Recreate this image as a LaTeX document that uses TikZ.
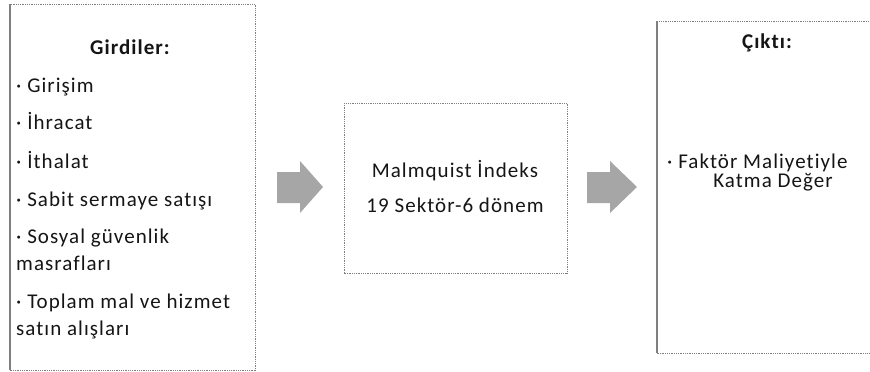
\documentclass[tikz,border=0pt]{standalone}
\usepackage{fontspec}
\setmainfont{Carlito}[LetterSpace=5,Ligatures=NoCommon]
\definecolor{edgegray}{HTML}{7F7F7F}
\definecolor{arrowgray}{HTML}{A6A6A6}
\definecolor{inkc}{HTML}{151515}
\begin{document}
\begin{tikzpicture}[x=1pt,y=-1pt,
  dotbox/.style={draw=edgegray,line width=0.9pt,dash pattern=on 0.9pt off 0.9pt,inner sep=0pt},
  solidedge/.style={draw=edgegray,line width=1.1pt},
  txt/.style={inner sep=0pt,text=inkc,font=\fontsize{21}{24}\selectfont},
  item/.style={txt,anchor=base west},
  ctr/.style={txt,anchor=base},
  head/.style={ctr,font=\fontsize{21}{24}\selectfont\bfseries},
  blockarrow/.style={fill=arrowgray,draw=none}]
\useasboundingbox (0,0) rectangle (870,372);
\clip (0,0) rectangle (870,372);

% boxes
\draw[dotbox] (10,4) rectangle (255,370);
\draw[solidedge] (10,4) -- (10,370);
\draw[dotbox] (344,103) rectangle (567,273);
\draw[dotbox] (657,21) rectangle (880,353);
\draw[solidedge] (657,21) -- (657,353);

% block arrows
\fill[blockarrow] (277,172) -- (300,172) -- (300,161) -- (323,187) -- (300,213) -- (300,203) -- (277,203) -- cycle;
\fill[blockarrow] (587,172) -- (610,172) -- (610,161) -- (637,187) -- (610,213) -- (610,203) -- (587,203) -- cycle;

% inputs
\node[head] (gh) at (130,54) {Girdiler:};
\node[item] (g1) at (16,92) {· Girişim};
\node[item] (g2) at (16,129) {· İhracat};
\node[item] (g3) at (16,168) {· İthalat};
\node[item] (g4) at (16,206) {· Sabit sermaye satışı};
\node[item] (g5) at (16,243) {· Sosyal güvenlik};
\node[item] (g5b) at (16,270) {masrafları};
\node[item] (g6) at (16,308) {· Toplam mal ve hizmet};
\node[item] (g6b) at (16,335) {satın alışları};

% method
\node[ctr] (m1) at (455,177) {Malmquist İndeks};
\node[ctr] (m2) at (455,212) {19 Sektör-6 dönem};

% output
\node[head] (ch) at (767,48) {Çıktı:};
\node[item] (c1) at (667,168) {· Faktör Maliyetiyle};
\node[ctr] (c2) at (773,187) {Katma Değer};
\end{tikzpicture}
\end{document}
